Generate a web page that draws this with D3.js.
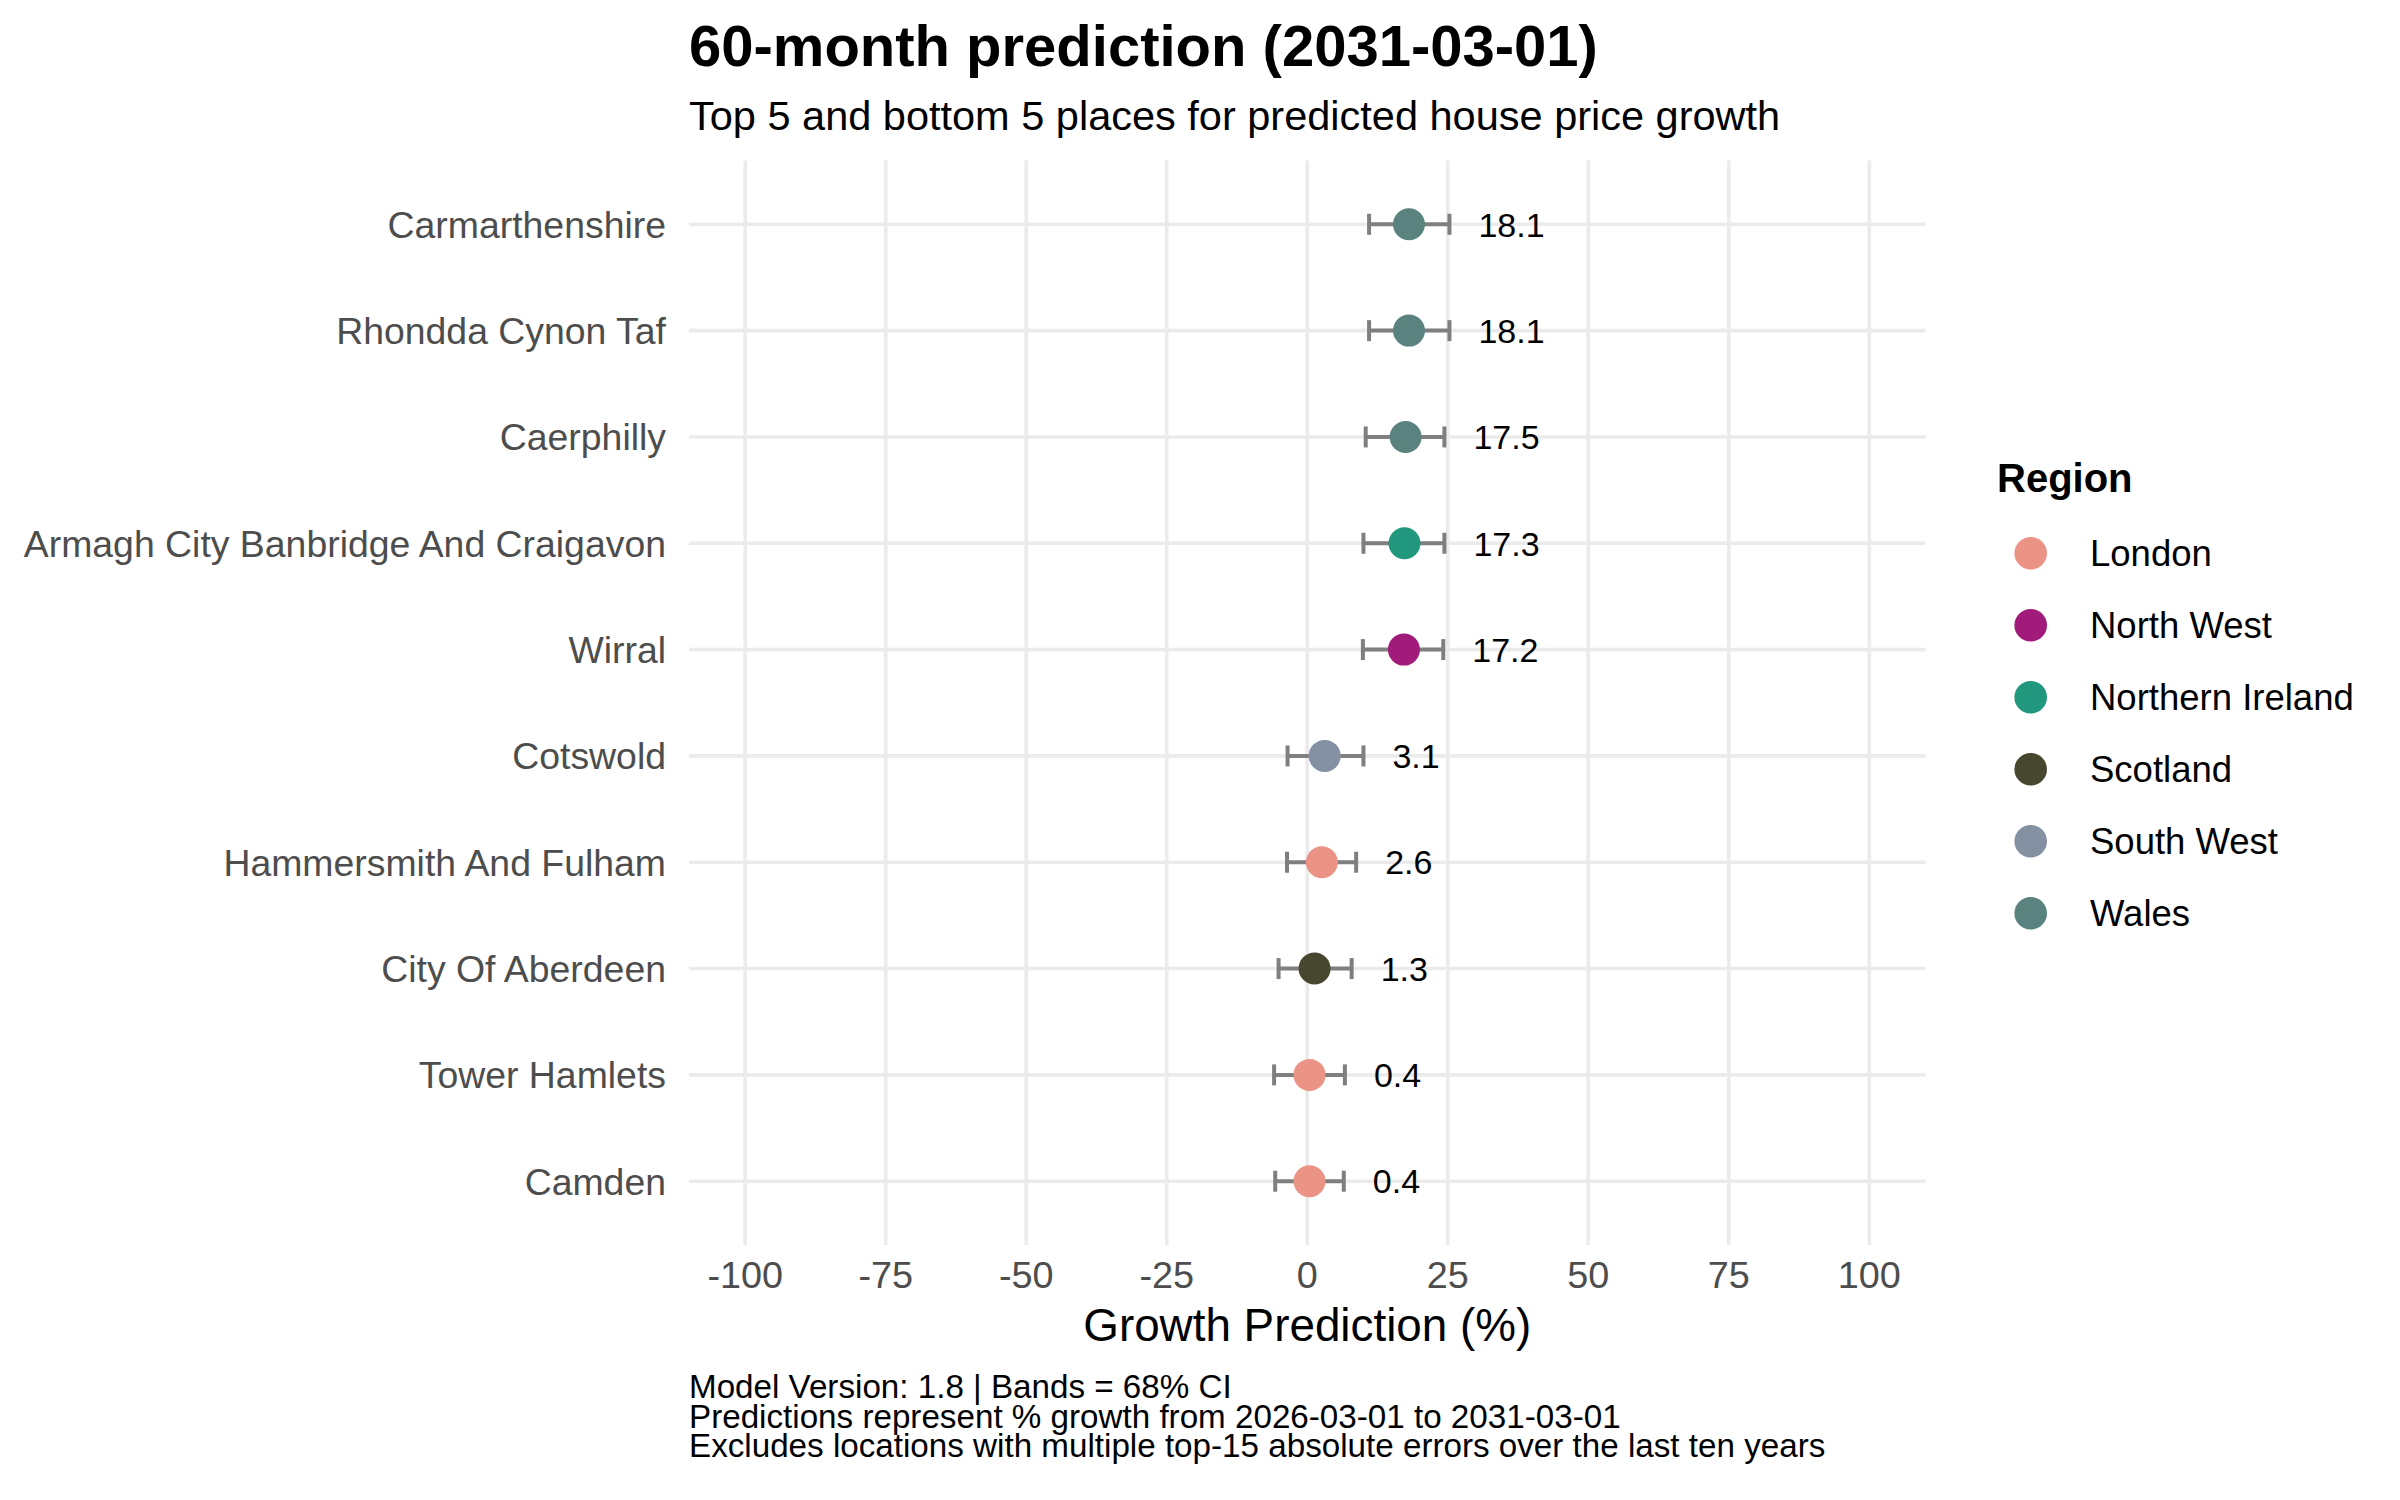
<!DOCTYPE html>
<html>
<head>
<meta charset="utf-8">
<script src="https://cdn.jsdelivr.net/npm/d3@7"></script>
<style>
  html, body { margin: 0; padding: 0; background: #ffffff; }
  svg { display: block; }
  text { font-family: "Liberation Sans", Arial, sans-serif; }
</style>
</head>
<body>
<svg id="chart" width="2400" height="1500"></svg>
<script>
// ---------- data ----------
const places = ["Carmarthenshire", "Rhondda Cynon Taf", "Caerphilly",
  "Armagh City Banbridge And Craigavon", "Wirral", "Cotswold",
  "Hammersmith And Fulham", "City Of Aberdeen", "Tower Hamlets", "Camden"];
const regions = ["Wales", "Wales", "Wales", "Northern Ireland", "North West",
  "South West", "London", "Scotland", "London", "London"];
const growth = [18.1, 18.1, 17.5, 17.3, 17.2, 3.1, 2.6, 1.3, 0.4, 0.4];
const lower  = [11.0, 11.0, 10.4, 10.0, 9.9, -3.5, -3.6, -5.1, -5.9, -5.7];
const upper  = [25.3, 25.3, 24.4, 24.4, 24.2, 10.0, 8.7, 7.9, 6.7, 6.5];
const xTicks = [-100, -75, -50, -25, 0, 25, 50, 75, 100];
const legendRegions = ["London", "North West", "Northern Ireland", "Scotland", "South West", "Wales"];
const regionColors = ["#EB9385", "#A11B7A", "#21977D", "#47462E", "#8491A3", "#5A837F"];

const titleText = "60-month prediction (2031-03-01)";
const subtitleText = "Top 5 and bottom 5 places for predicted house price growth";
const xTitle = "Growth Prediction (%)";
const captionLines = ["Model Version: 1.8 | Bands = 68% CI",
  "Predictions represent % growth from 2026-03-01 to 2031-03-01",
  "Excludes locations with multiple top-15 absolute errors over the last ten years"];
const legendTitle = "Region";

// ---------- layout ----------
const svg = d3.select("#chart");
const panel = { left: 689, right: 1925.5, top: 160.5, bottom: 1245 };

const x = d3.scaleLinear().domain([-110, 110]).range([panel.left, panel.right]);
const y = d3.scalePoint().domain(places).range([panel.top, panel.bottom]).padding(0.6);
const color = d3.scaleOrdinal().domain(legendRegions).range(regionColors);

const rows = places.map((p, i) => ({ place: p, region: regions[i], g: growth[i], lo: lower[i], hi: upper[i] }));

// grid
const grid = svg.append("g");
grid.selectAll("line.v").data(xTicks).join("line")
  .attr("x1", d => x(d)).attr("x2", d => x(d))
  .attr("y1", panel.top).attr("y2", panel.bottom)
  .attr("stroke", "#ebebeb").attr("stroke-width", 3.6);
grid.selectAll("line.h").data(places).join("line")
  .attr("x1", panel.left).attr("x2", panel.right)
  .attr("y1", d => y(d)).attr("y2", d => y(d))
  .attr("stroke", "#ebebeb").attr("stroke-width", 3.6);

// error bars
const capH = 10.5;
const eb = svg.append("g").attr("stroke", "#7f7f7f").attr("stroke-width", 4).attr("fill", "none");
eb.selectAll("line.m").data(rows).join("line")
  .attr("x1", d => x(d.lo)).attr("x2", d => x(d.hi))
  .attr("y1", d => y(d.place)).attr("y2", d => y(d.place));
eb.selectAll("line.l").data(rows).join("line")
  .attr("x1", d => x(d.lo)).attr("x2", d => x(d.lo))
  .attr("y1", d => y(d.place) - capH).attr("y2", d => y(d.place) + capH);
eb.selectAll("line.r").data(rows).join("line")
  .attr("x1", d => x(d.hi)).attr("x2", d => x(d.hi))
  .attr("y1", d => y(d.place) - capH).attr("y2", d => y(d.place) + capH);

// points
svg.append("g").selectAll("circle").data(rows).join("circle")
  .attr("cx", d => x(d.g)).attr("cy", d => y(d.place)).attr("r", 16)
  .attr("fill", d => color(d.region));

// value labels
svg.append("g").selectAll("text").data(rows).join("text")
  .attr("x", d => x(d.hi) + 29).attr("y", d => y(d.place))
  .attr("dy", "0.36em")
  .attr("font-size", 34).attr("fill", "#000")
  .text(d => d.g.toFixed(1));

// y axis labels
svg.append("g").selectAll("text").data(places).join("text")
  .attr("x", 666).attr("y", d => y(d)).attr("dy", "0.36em")
  .attr("text-anchor", "end").attr("font-size", 37.4).attr("fill", "#4d4d4d")
  .text(d => d);

// x axis labels
svg.append("g").selectAll("text").data(xTicks).join("text")
  .attr("x", d => x(d)).attr("y", 1288)
  .attr("text-anchor", "middle").attr("font-size", 37.8).attr("fill", "#4d4d4d")
  .text(d => d);

// x title
svg.append("text").attr("x", (panel.left + panel.right) / 2).attr("y", 1341)
  .attr("text-anchor", "middle").attr("font-size", 45.8).attr("fill", "#000")
  .text(xTitle);

// title / subtitle
svg.append("text").attr("x", 689).attr("y", 66)
  .attr("font-size", 58).attr("font-weight", "bold").attr("fill", "#000")
  .text(titleText);
svg.append("text").attr("x", 689).attr("y", 130)
  .attr("font-size", 41.5).attr("fill", "#000")
  .text(subtitleText);

// caption (one multi-line text block)
const cap = svg.append("text").attr("x", 689).attr("y", 1398)
  .attr("font-size", 33.2).attr("fill", "#000");
cap.selectAll("tspan").data(captionLines).join("tspan")
  .attr("x", 689).attr("dy", (d, i) => i === 0 ? 0 : 29.5)
  .text(d => d);

// legend
const lg = svg.append("g");
lg.append("text").attr("x", 1997).attr("y", 492)
  .attr("font-size", 40).attr("font-weight", "bold").attr("fill", "#000")
  .text(legendTitle);
const ly = d3.scalePoint().domain(legendRegions).range([553.3, 913.3]);
lg.selectAll("circle").data(legendRegions).join("circle")
  .attr("cx", 2030.7).attr("cy", d => ly(d)).attr("r", 16.3)
  .attr("fill", d => color(d));
lg.selectAll("text.item").data(legendRegions).join("text")
  .attr("class", "item")
  .attr("x", 2090).attr("y", d => ly(d)).attr("dy", "0.36em")
  .attr("font-size", 36.5).attr("fill", "#000")
  .text(d => d);
</script>
</body>
</html>
